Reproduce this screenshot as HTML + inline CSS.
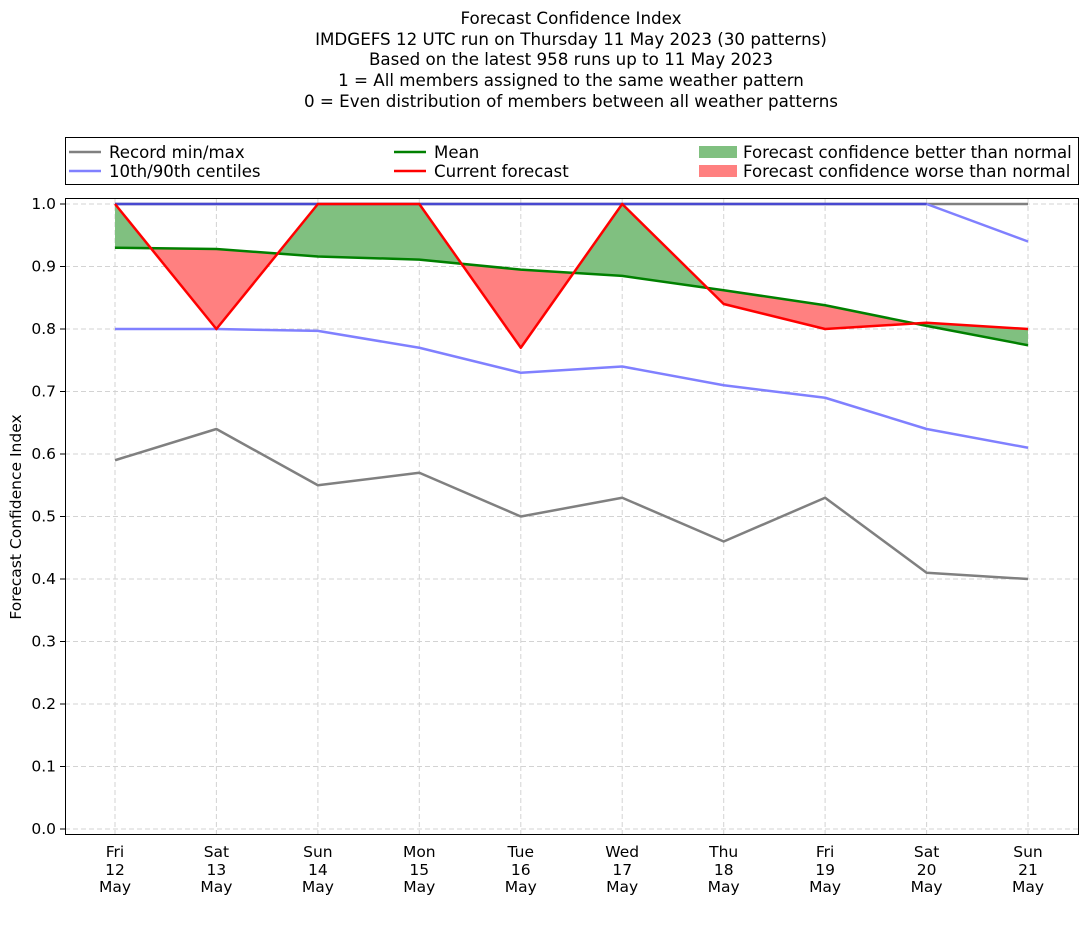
<!DOCTYPE html>
<html><head><meta charset="utf-8"><style>
body{margin:0;background:#fff}
text{font-family:"DejaVu Sans","Liberation Sans",sans-serif;fill:#000}
</style></head><body>
<svg width="1092" height="924" xmlns="http://www.w3.org/2000/svg">
<defs>
<clipPath id="aboveMean"><polygon points="115,247.75 216.4,249 317.9,256.5 419.3,259.6 520.8,269.6 622.2,275.9 723.7,290.25 825.1,305.25 926.6,325.9 1028,345.25 1028,0 115,0"/></clipPath>
<clipPath id="belowMean"><polygon points="115,247.75 216.4,249 317.9,256.5 419.3,259.6 520.8,269.6 622.2,275.9 723.7,290.25 825.1,305.25 926.6,325.9 1028,345.25 1028,900 115,900"/></clipPath>
</defs>
<g font-size="16.7" text-anchor="middle">
<text x="571" y="24">Forecast Confidence Index</text>
<text x="571" y="45">IMDGEFS 12 UTC run on Thursday 11 May 2023 (30 patterns)</text>
<text x="571" y="65">Based on the latest 958 runs up to 11 May 2023</text>
<text x="571" y="86">1 = All members assigned to the same weather pattern</text>
<text x="571" y="107">0 = Even distribution of members between all weather patterns</text>
</g>
<rect x="65.5" y="137.5" width="1013" height="47" fill="#fff" stroke="#000"/>
<g font-size="16.6">
<line x1="69" y1="152" x2="101" y2="152" stroke="#808080" stroke-width="2.5"/><text x="109" y="158">Record min/max</text>
<line x1="69" y1="171" x2="101" y2="171" stroke="#8080ff" stroke-width="2.5"/><text x="109" y="177">10th/90th centiles</text>
<line x1="394" y1="152" x2="426" y2="152" stroke="green" stroke-width="2.5"/><text x="434" y="158">Mean</text>
<line x1="394" y1="171" x2="426" y2="171" stroke="red" stroke-width="2.5"/><text x="434" y="177">Current forecast</text>
<rect x="699" y="146" width="38" height="12" fill="#80c080"/><text x="743" y="158">Forecast confidence better than normal</text>
<rect x="699" y="165" width="38" height="12" fill="#ff8080"/><text x="743" y="177">Forecast confidence worse than normal</text>
</g>
<g stroke="#d3d3d3" stroke-dasharray="5,3" stroke-width="1">
<line x1="65" x2="1079" y1="829" y2="829"/><line x1="65" x2="1079" y1="766.5" y2="766.5"/><line x1="65" x2="1079" y1="704" y2="704"/><line x1="65" x2="1079" y1="641.5" y2="641.5"/><line x1="65" x2="1079" y1="579" y2="579"/><line x1="65" x2="1079" y1="516.5" y2="516.5"/><line x1="65" x2="1079" y1="454" y2="454"/><line x1="65" x2="1079" y1="391.5" y2="391.5"/><line x1="65" x2="1079" y1="329" y2="329"/><line x1="65" x2="1079" y1="266.5" y2="266.5"/><line x1="65" x2="1079" y1="204" y2="204"/>
<line y1="198" y2="835" x1="115" x2="115"/><line y1="198" y2="835" x1="216.4" x2="216.4"/><line y1="198" y2="835" x1="317.9" x2="317.9"/><line y1="198" y2="835" x1="419.3" x2="419.3"/><line y1="198" y2="835" x1="520.8" x2="520.8"/><line y1="198" y2="835" x1="622.2" x2="622.2"/><line y1="198" y2="835" x1="723.7" x2="723.7"/><line y1="198" y2="835" x1="825.1" x2="825.1"/><line y1="198" y2="835" x1="926.6" x2="926.6"/><line y1="198" y2="835" x1="1028" x2="1028"/>
</g>
<polygon clip-path="url(#aboveMean)" fill="#80c080" points="115,204 216.4,329 317.9,204 419.3,204 520.8,347.75 622.2,204 723.7,304 825.1,329 926.6,322.75 1028,329 1028,900 115,900"/>
<polygon clip-path="url(#belowMean)" fill="#ff8080" points="115,204 216.4,329 317.9,204 419.3,204 520.8,347.75 622.2,204 723.7,304 825.1,329 926.6,322.75 1028,329 1028,0 115,0"/>
<g fill="none" stroke-width="2.5" stroke-linejoin="round">
<polyline stroke="#808080" points="115,204 1028,204"/>
<polyline stroke="#808080" points="115,460.25 216.4,429 317.9,485.25 419.3,472.75 520.8,516.5 622.2,497.75 723.7,541.5 825.1,497.75 926.6,572.75 1028,579"/>
<polyline stroke="#8080ff" points="115,329 216.4,329 317.9,330.9 419.3,347.75 520.8,372.75 622.2,366.5 723.7,385.25 825.1,397.75 926.6,429 1028,447.75"/>
<polyline stroke="#4848d0" points="115,204 926.6,204"/>
<polyline stroke="#8080ff" points="926.6,204 1028,241.5"/>
<polyline stroke="green" points="115,247.75 216.4,249 317.9,256.5 419.3,259.6 520.8,269.6 622.2,275.9 723.7,290.25 825.1,305.25 926.6,325.9 1028,345.25"/>
<polyline stroke="red" points="115,204 216.4,329 317.9,204 419.3,204 520.8,347.75 622.2,204 723.7,304 825.1,329 926.6,322.75 1028,329"/>
</g>
<rect x="65.5" y="198.5" width="1013" height="636" fill="none" stroke="#000"/>
<g stroke="#000"><line x1="60" x2="65" y1="829" y2="829"/><line x1="60" x2="65" y1="766.5" y2="766.5"/><line x1="60" x2="65" y1="704" y2="704"/><line x1="60" x2="65" y1="641.5" y2="641.5"/><line x1="60" x2="65" y1="579" y2="579"/><line x1="60" x2="65" y1="516.5" y2="516.5"/><line x1="60" x2="65" y1="454" y2="454"/><line x1="60" x2="65" y1="391.5" y2="391.5"/><line x1="60" x2="65" y1="329" y2="329"/><line x1="60" x2="65" y1="266.5" y2="266.5"/><line x1="60" x2="65" y1="204" y2="204"/></g>
<g font-size="15.5" text-anchor="end">
<text x="56" y="834">0.0</text><text x="56" y="771.5">0.1</text><text x="56" y="709">0.2</text><text x="56" y="646.5">0.3</text><text x="56" y="584">0.4</text><text x="56" y="521.5">0.5</text><text x="56" y="459">0.6</text><text x="56" y="396.5">0.7</text><text x="56" y="334">0.8</text><text x="56" y="271.5">0.9</text><text x="56" y="209">1.0</text>
</g>
<text font-size="15.5" text-anchor="middle" transform="translate(21,517) rotate(-90)">Forecast Confidence Index</text>
<g font-size="15.5" text-anchor="middle">
<text x="115" y="857">Fri</text><text x="115" y="875">12</text><text x="115" y="892">May</text>
<text x="216.4" y="857">Sat</text><text x="216.4" y="875">13</text><text x="216.4" y="892">May</text>
<text x="317.9" y="857">Sun</text><text x="317.9" y="875">14</text><text x="317.9" y="892">May</text>
<text x="419.3" y="857">Mon</text><text x="419.3" y="875">15</text><text x="419.3" y="892">May</text>
<text x="520.8" y="857">Tue</text><text x="520.8" y="875">16</text><text x="520.8" y="892">May</text>
<text x="622.2" y="857">Wed</text><text x="622.2" y="875">17</text><text x="622.2" y="892">May</text>
<text x="723.7" y="857">Thu</text><text x="723.7" y="875">18</text><text x="723.7" y="892">May</text>
<text x="825.1" y="857">Fri</text><text x="825.1" y="875">19</text><text x="825.1" y="892">May</text>
<text x="926.6" y="857">Sat</text><text x="926.6" y="875">20</text><text x="926.6" y="892">May</text>
<text x="1028" y="857">Sun</text><text x="1028" y="875">21</text><text x="1028" y="892">May</text>
</g>
</svg>
</body></html>
